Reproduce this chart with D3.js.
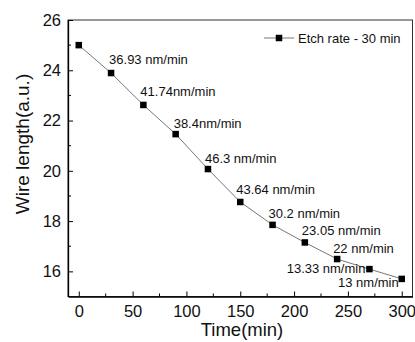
<!DOCTYPE html>
<html><head><meta charset="utf-8">
<script src="https://cdn.jsdelivr.net/npm/d3@7"></script>
<style>
html,body{margin:0;padding:0;background:#fff;}
svg{display:block;font-family:"Liberation Sans",Arial,sans-serif;}
</style></head>
<body><svg id="c" width="415" height="342"></svg>
<script>
const times = [0, 30, 60, 90, 120, 150, 180, 210, 240, 270, 300];
const wireLength = [25.0, 23.89, 22.62, 21.46, 20.07, 18.76, 17.85, 17.15, 16.49, 16.09, 15.70];
const rateLabels = ["36.93 nm/min", "41.74nm/min", "38.4nm/min", "46.3 nm/min", "43.64 nm/min",
  "30.2 nm/min", "23.05 nm/min", "22 nm/min", "13.33 nm/min", "13 nm/min"];
const xTicks = [0, 50, 100, 150, 200, 250, 300];
const xMinorTicks = [25, 75, 125, 175, 225, 275];
const yTicks = [16, 18, 20, 22, 24, 26];
const yMinorTicks = [17, 19, 21, 23, 25];
const seriesName = "Etch rate - 30 min";

const svg = d3.select("#c");
const L = 68, R = 412.5, T = 20, B = 296.5;
const x = d3.scaleLinear().domain([-10, 310]).range([L, R]);
const y = d3.scaleLinear().domain([15, 26]).range([B, T]);

// frame
svg.append("rect").attr("x", L).attr("y", T).attr("width", R - L).attr("height", B - T)
  .attr("fill", "none").attr("stroke", "#333").attr("stroke-width", 1);

// x axis
const gx = svg.append("g").attr("transform", `translate(0,${B})`)
  .call(d3.axisBottom(x).tickValues(xTicks).tickSizeInner(-5).tickSizeOuter(0).tickPadding(9));
gx.append("g").selectAll("line").data(xMinorTicks).join("line")
  .attr("x1", d => x(d)).attr("x2", d => x(d)).attr("y1", 0).attr("y2", -3).attr("stroke", "#000");
// y axis
const gy = svg.append("g").attr("transform", `translate(${L},0)`)
  .call(d3.axisLeft(y).tickValues(yTicks).tickSizeInner(-5).tickSizeOuter(0).tickPadding(7));
gy.append("g").selectAll("line").data(yMinorTicks).join("line")
  .attr("y1", d => y(d)).attr("y2", d => y(d)).attr("x1", 0).attr("x2", 3).attr("stroke", "#000");

[gx, gy].forEach(g => {
  g.select(".domain").attr("stroke", "#000").attr("stroke-width", 1.3);
  g.selectAll(".tick line").attr("stroke", "#000").attr("stroke-width", 1);
  g.selectAll(".tick text").attr("font-size", 16.5).attr("fill", "#111")
    .attr("font-family", "Liberation Sans, Arial, sans-serif");
});

// axis titles
svg.append("text").attr("x", 242).attr("y", 336).attr("text-anchor", "middle")
  .attr("font-size", 18.5).attr("fill", "#111").text("Time(min)");
svg.append("text").attr("transform", "translate(29,144) rotate(-90)").attr("text-anchor", "middle")
  .attr("font-size", 19).attr("fill", "#111").text("Wire length(a.u.)");

// line
const pts = times.map((t, i) => [t, wireLength[i]]);
svg.append("path").datum(pts)
  .attr("d", d3.line().x(d => x(d[0])).y(d => y(d[1])))
  .attr("fill", "none").attr("stroke", "#777").attr("stroke-width", 1);
const ms = 6.5;
svg.append("g").selectAll("rect").data(pts).join("rect")
  .attr("x", d => x(d[0]) - ms / 2).attr("y", d => y(d[1]) - ms / 2)
  .attr("width", ms).attr("height", ms).attr("fill", "#000");

// rate annotations (attached to points 1..10)
const offsets = [[-2, -9, "start"], [-3, -9, "start"], [-2, -6, "start"], [-3, -6, "start"], [-4, -8, "start"],
  [-4, -7, "start"], [-3, -7, "start"], [-4, -6, "start"], [-4, 4, "end"], [-3, 8, "end"]];
svg.append("g").selectAll("text").data(rateLabels).join("text")
  .attr("x", (d, i) => x(times[i + 1]) + offsets[i][0])
  .attr("y", (d, i) => y(wireLength[i + 1]) + offsets[i][1])
  .attr("text-anchor", (d, i) => offsets[i][2])
  .attr("font-size", 13).attr("fill", "#111").text(d => d);

// legend
const ly = 38;
svg.append("line").attr("x1", 264).attr("x2", 294).attr("y1", ly).attr("y2", ly)
  .attr("stroke", "#777").attr("stroke-width", 1);
svg.append("rect").attr("x", 279 - ms / 2).attr("y", ly - ms / 2).attr("width", ms).attr("height", ms).attr("fill", "#000");
svg.append("text").attr("x", 298).attr("y", ly + 4.5).attr("font-size", 13).attr("fill", "#111").text(seriesName);
</script></body></html>
